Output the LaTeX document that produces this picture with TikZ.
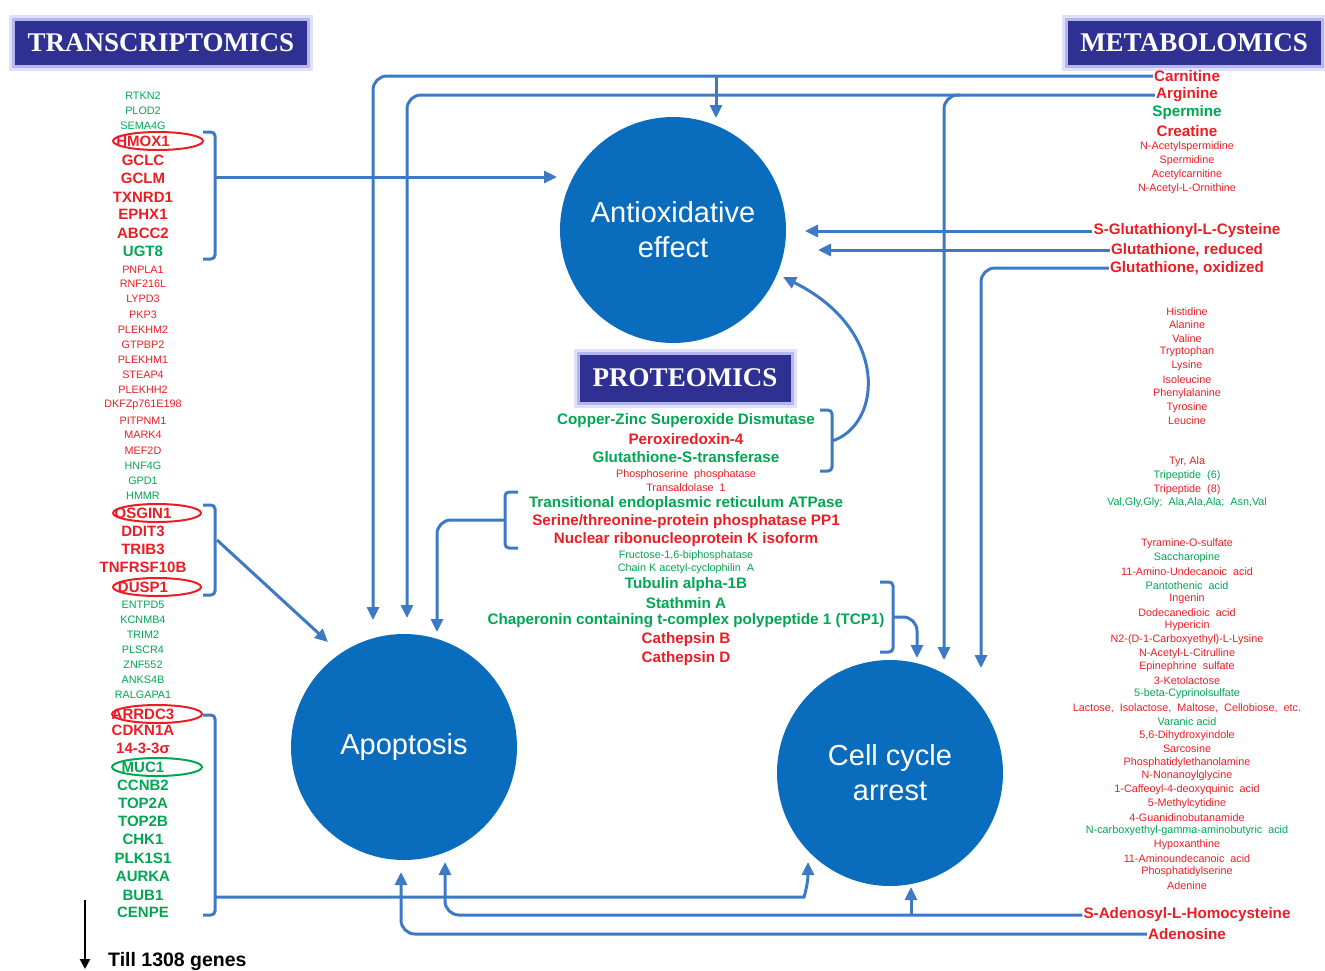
\documentclass[tikz,border=0pt]{standalone}
\usepackage{fontspec}
\setmainfont{Liberation Sans}
\newfontfamily\titlefont{Liberation Serif}
\usetikzlibrary{arrows.meta}

\definecolor{mred}{RGB}{236,28,36}
\definecolor{mgreen}{RGB}{0,166,81}
\definecolor{cblue}{RGB}{10,108,188}
\definecolor{lblue}{RGB}{62,122,196}
\definecolor{tblue}{RGB}{46,49,146}
\definecolor{haze}{RGB}{165,165,235}

\newcommand{\lblsmall}{\fontsize{10.8}{12}\selectfont}
\newcommand{\lblmeta}{\fontsize{10.8}{12}\selectfont}
\newcommand{\lblgene}{\fontsize{15}{16}\selectfont\bfseries}
\newcommand{\lblbig}{\fontsize{15.2}{16}\selectfont\bfseries}

\begin{document}
\begin{tikzpicture}[x=1pt,y=-1pt,
    >={Triangle[length=13pt,width=12pt]},
    conn/.style={draw=lblue,line width=3pt,rounded corners=14pt},
    brk/.style={draw=lblue,line width=3pt,rounded corners=4pt},
    bigdot/.style={circle,fill=cblue,minimum size=226pt,inner sep=0pt,
      text=white,align=center,font=\fontsize{29}{35}\selectfont},
    titlebox/.style={fill=tblue,text=white,inner sep=0pt,
      font=\titlefont\bfseries\fontsize{27}{30}\selectfont,
      preaction={draw=haze,line width=12pt,draw opacity=.35},
      preaction={draw=haze,line width=6pt,draw opacity=.7}},
    lbl/.style={inner sep=1pt},
    ovalred/.style={draw=mred,line width=2pt},
    ovalgreen/.style={draw=mgreen,line width=2pt}]
\useasboundingbox (0,0) rectangle (1325,970);

% headings
\node[titlebox,minimum width=292pt,minimum height=44pt] (trans) at (161,43) {TRANSCRIPTOMICS};
\node[titlebox,minimum width=253pt,minimum height=44pt] (metab) at (1194,43) {METABOLOMICS};
\node[titlebox,minimum width=211pt,minimum height=47pt] (prot) at (685,378) {PROTEOMICS};

% effects
\node[bigdot] (anti) at (673,230) {Antioxidative\\effect};
\node[bigdot] (apop) at (404,747) {Apoptosis};
\node[bigdot] (ccarr) at (890,773) {Cell cycle\\arrest};

% genes
\foreach \yy/\tx/\cl/\fn in {
  96/RTKN2/mgreen/\lblsmall, 111/PLOD2/mgreen/\lblsmall, 126/SEMA4G/mgreen/\lblsmall,
  141/HMOX1/mred/\lblgene, 160/GCLC/mred/\lblgene, 178/GCLM/mred/\lblgene,
  197/TXNRD1/mred/\lblgene, 214/EPHX1/mred/\lblgene, 233/ABCC2/mred/\lblgene,
  251/UGT8/mgreen/\lblgene,
  270/PNPLA1/mred/\lblsmall, 284/RNF216L/mred/\lblsmall, 299/LYPD3/mred/\lblsmall,
  315/PKP3/mred/\lblsmall, 330/PLEKHM2/mred/\lblsmall, 345/GTPBP2/mred/\lblsmall,
  360/PLEKHM1/mred/\lblsmall, 375/STEAP4/mred/\lblsmall, 390/PLEKHH2/mred/\lblsmall,
  405/DKFZp761E198/mred/\lblsmall, 421/PITPNM1/mred/\lblsmall, 435/MARK4/mred/\lblsmall,
  451/MEF2D/mred/\lblsmall,
  466/HNF4G/mgreen/\lblsmall, 481/GPD1/mgreen/\lblsmall, 496/HMMR/mgreen/\lblsmall,
  513/OSGIN1/mred/\lblgene, 531/DDIT3/mred/\lblgene, 549/TRIB3/mred/\lblgene,
  567/TNFRSF10B/mred/\lblgene, 587/DUSP1/mred/\lblgene,
  605/ENTPD5/mgreen/\lblsmall, 620/KCNMB4/mgreen/\lblsmall, 635/TRIM2/mgreen/\lblsmall,
  650/PLSCR4/mgreen/\lblsmall, 665/ZNF552/mgreen/\lblsmall, 680/ANKS4B/mgreen/\lblsmall,
  695/RALGAPA1/mgreen/\lblsmall,
  714/ARRDC3/mred/\lblgene, 730/CDKN1A/mred/\lblgene, 748/14-3-3σ/mred/\lblgene,
  767/MUC1/mgreen/\lblgene, 785/CCNB2/mgreen/\lblgene, 803/TOP2A/mgreen/\lblgene,
  821/TOP2B/mgreen/\lblgene, 839/CHK1/mgreen/\lblgene, 858/PLK1S1/mgreen/\lblgene,
  876/AURKA/mgreen/\lblgene, 895/BUB1/mgreen/\lblgene, 912/CENPE/mgreen/\lblgene}
  \node[lbl,text=\cl,font=\fn] (gene\yy) at (143,\yy) {\tx};

\draw[ovalred] ([xshift=15pt]gene141.center) ellipse (45pt and 9pt);
\draw[ovalred] ([xshift=14pt]gene513.center) ellipse (44pt and 9pt);
\draw[ovalred] ([xshift=14pt]gene587.center) ellipse (44pt and 9pt);
\draw[ovalred] ([xshift=14pt]gene714.center) ellipse (45pt and 9pt);
\draw[ovalgreen] ([xshift=14pt]gene767.center) ellipse (45pt and 9pt);

% proteins
\foreach \yy/\tx/\cl/\fn in {
  421/Copper-Zinc Superoxide Dismutase/mgreen/\lblbig,
  439/Peroxiredoxin-4/mred/\lblbig,
  457/Glutathione-S-transferase/mgreen/\lblbig,
  475/Phosphoserine\ \ phosphatase/mred/\lblsmall,
  488/Transaldolase\ \ 1/mred/\lblsmall,
  504/Transitional endoplasmic reticulum ATPase/mgreen/\lblbig,
  522/{Serine/threonine-protein phosphatase PP1}/mred/\lblbig,
  540/Nuclear ribonucleoprotein K isoform/mred/\lblbig,
  556/{Fructose-1,6-biphosphatase}/mgreen/\lblsmall,
  569/Chain K acetyl-cyclophilin\ \ A/mgreen/\lblsmall,
  585/Tubulin alpha-1B/mgreen/\lblbig,
  603/Stathmin A/mgreen/\lblbig,
  621/Chaperonin containing t-complex polypeptide 1 (TCP1)/mgreen/\lblbig,
  640/Cathepsin B/mred/\lblbig,
  659/Cathepsin D/mred/\lblbig}
  \node[lbl,text=\cl,font=\fn] (prot\yy) at (686,\yy) {\tx};

% metabolites
\foreach \yy/\tx/\cl/\fn in {
  76/Carnitine/mred/\lblbig, 95/Arginine/mred/\lblbig, 113/Spermine/mgreen/\lblbig,
  131/Creatine/mred/\lblbig,
  147/N-Acetylspermidine/mred/\lblmeta, 161/Spermidine/mred/\lblmeta,
  175/Acetylcarnitine/mred/\lblmeta, 189/N-Acetyl-L-Ornithine/mred/\lblmeta,
  231/S-Glutathionyl-L-Cysteine/mred/\lblbig,
  250/{Glutathione, reduced}/mred/\lblbig,
  268/{Glutathione, oxidized}/mred/\lblbig,
  312/Histidine/mred/\lblmeta, 325/Alanine/mred/\lblmeta, 339/Valine/mred/\lblmeta,
  352/Tryptophan/mred/\lblmeta, 366/Lysine/mred/\lblmeta, 380/Isoleucine/mred/\lblmeta,
  394/Phenylalanine/mred/\lblmeta, 408/Tyrosine/mred/\lblmeta, 421/Leucine/mred/\lblmeta,
  462/{Tyr,\ Ala}/mred/\lblmeta,
  476/Tripeptide\ \ (6)/mgreen/\lblmeta,
  490/Tripeptide\ \ (8)/mred/\lblmeta,
  503/{Val,Gly,Gly;\ \ Ala,Ala,Ala;\ \ Asn,Val}/mgreen/\lblmeta,
  544/Tyramine-O-sulfate/mred/\lblmeta,
  558/Saccharopine/mgreen/\lblmeta,
  572/11-Amino-Undecanoic\ \ acid/mred/\lblmeta,
  586/Pantothenic\ \ acid/mgreen/\lblmeta,
  599/Ingenin/mred/\lblmeta,
  613/Dodecanedioic\ \ acid/mred/\lblmeta,
  626/Hypericin/mred/\lblmeta,
  640/N2-(D-1-Carboxyethyl)-L-Lysine/mred/\lblmeta,
  654/N-Acetyl-L-Citrulline/mred/\lblmeta,
  667/Epinephrine\ \ sulfate/mred/\lblmeta,
  681/3-Ketolactose/mred/\lblmeta,
  694/5-beta-Cyprinolsulfate/mgreen/\lblmeta,
  708/{Lactose,\ \ Isolactose,\ \ Maltose,\ \ Cellobiose,\ \ etc.}/mred/\lblmeta,
  722/Varanic acid/mgreen/\lblmeta,
  736/{5,6-Dihydroxyindole}/mred/\lblmeta,
  749/Sarcosine/mred/\lblmeta,
  763/Phosphatidylethanolamine/mred/\lblmeta,
  776/N-Nonanoylglycine/mred/\lblmeta,
  790/1-Caffeoyl-4-deoxyquinic\ \ acid/mred/\lblmeta,
  804/5-Methylcytidine/mred/\lblmeta,
  818/4-Guanidinobutanamide/mred/\lblmeta,
  831/N-carboxyethyl-gamma-aminobutyric\ \ acid/mgreen/\lblmeta,
  845/Hypoxanthine/mred/\lblmeta,
  859/11-Aminoundecanoic\ \ acid/mred/\lblmeta,
  872/Phosphatidylserine/mred/\lblmeta,
  886/Adenine/mred/\lblmeta,
  915/S-Adenosyl-L-Homocysteine/mred/\lblbig,
  934/Adenosine/mred/\lblbig}
  \node[lbl,text=\cl,font=\fn] (met\yy) at (1187,\yy) {\tx};

% arrow ends
\coordinate (aoIn1) at (716,118);
\coordinate (aoIn2) at (805,231);
\coordinate (aoIn3) at (818,250);
\coordinate (aoIn4) at (557,177);
\coordinate (aoIn5) at (783,277);
\coordinate (apIn1) at (373,620);
\coordinate (apIn2) at (407,618);
\coordinate (apIn3) at (437,632);
\coordinate (apIn4) at (445,862);
\coordinate (apIn5) at (401,872);
\coordinate (apIn6) at (328,642);
\coordinate (ccIn1) at (944,660);
\coordinate (ccIn2) at (981,668);
\coordinate (ccIn3) at (917,658);
\coordinate (ccIn4) at (911,887);
\coordinate (ccIn5) at (808,862);

% brackets
\draw[brk] (203,132) -- (215,132) -- (215,259) -- (203,259);
\draw[brk] (203,505) -- (215,505) -- (215,595) -- (203,595);
\draw[brk] (203,715) -- (215,715) -- (215,915) -- (203,915);
\draw[brk] (820,410) -- (832,410) -- (832,471) -- (820,471);
\draw[brk] (518,492) -- (505,492) -- (505,548) -- (518,548);
\draw[brk] (880,582) -- (893,582) -- (893,652) -- (880,652);
\coordinate (brk1) at (215,177);
\coordinate (brk2) at (217,540);
\coordinate (brk3) at (215,897);
\coordinate (brkA) at (832,441);
\coordinate (brkB) at (505,520);
\coordinate (brkC) at (893,617);

% connectors
\draw[conn,->] (brk1) -- (aoIn4);
\draw[conn,->] (brk2) -- (apIn6);
\draw[conn,->] (brk3) -- ++(575,0) .. controls +(14,0) and +(0,22) .. (ccIn5);
\draw[conn,->] (brkA) .. controls (882,425) and (890,330) .. (aoIn5);
\draw[conn,->] (brkB) -| (apIn3);
\draw[conn,->] (brkC) -| (ccIn3);

\draw[conn,->] (met76.west) -| (apIn1);
\draw[conn,->] (aoIn1 |- met76.west) -- (aoIn1);
\draw[conn,->] (met95.west) -| (apIn2);
\draw[conn,->] ([xshift=16pt]ccIn1 |- met95.west) -| (ccIn1);
\draw[conn,->] (met231.west) -- (aoIn2);
\draw[conn,->] (met250.west) -- (aoIn3);
\draw[conn,->] (met268.west) -| (ccIn2);
\draw[conn,->] (met915.west) -| (apIn4);
\draw[conn,->] (ccIn4 |- met915.west) -- (ccIn4);
\draw[conn,->] (met934.west) -| (apIn5);

% more genes
\coordinate (tillTop) at (85,900);
\coordinate (tillEnd) at (85,969);
\draw[line width=2.5pt,-{Triangle[length=10pt,width=10pt]}] (tillTop) -- (tillEnd);
\node[anchor=base west,inner sep=0pt,font=\fontsize{19.5}{22}\selectfont\bfseries] (till) at (108,966) {Till 1308 genes};
\end{tikzpicture}
\end{document}
